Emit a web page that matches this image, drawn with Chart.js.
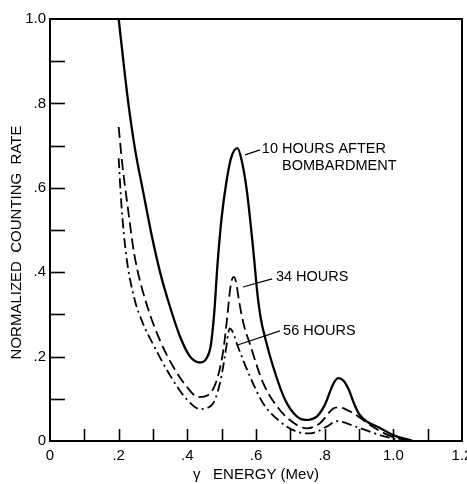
<!DOCTYPE html>
<html>
<head>
<meta charset="utf-8">
<script src="https://cdn.jsdelivr.net/npm/chart.js@4/dist/chart.umd.min.js"></script>
<style>
  html, body { margin: 0; padding: 0; background: #fff; }
  #wrap { width: 467px; height: 484px; }
</style>
</head>
<body>
<div id="wrap"><canvas id="spectrum"></canvas></div>
<script>
// gamma energy (Mev) and normalized counting rate
var energy10 = [0.200, 0.227, 0.248, 0.272, 0.296, 0.320, 0.345, 0.379, 0.408, 0.437, 0.455, 0.468, 0.478, 0.488, 0.500, 0.514, 0.528, 0.546, 0.558, 0.573, 0.592, 0.604, 0.614, 0.628, 0.650, 0.685, 0.719, 0.743, 0.777, 0.800, 0.825, 0.839, 0.855, 0.870, 0.885, 0.900, 0.925, 0.961, 1.000, 1.057];
var rate10   = [1.000, 0.808, 0.690, 0.588, 0.488, 0.402, 0.330, 0.247, 0.200, 0.186, 0.195, 0.225, 0.300, 0.420, 0.530, 0.615, 0.672, 0.694, 0.666, 0.595, 0.453, 0.350, 0.290, 0.240, 0.176, 0.097, 0.058, 0.050, 0.058, 0.085, 0.135, 0.149, 0.143, 0.122, 0.090, 0.064, 0.045, 0.031, 0.014, 0.000];

var energy34 = [0.200, 0.210, 0.228, 0.246, 0.280, 0.320, 0.359, 0.398, 0.432, 0.461, 0.486, 0.505, 0.517, 0.524, 0.530, 0.536, 0.543, 0.550, 0.563, 0.583, 0.621, 0.670, 0.719, 0.748, 0.786, 0.825, 0.840, 0.883, 0.941, 1.000, 1.060];
var rate34   = [0.744, 0.660, 0.545, 0.440, 0.328, 0.239, 0.176, 0.129, 0.104, 0.109, 0.145, 0.216, 0.300, 0.355, 0.383, 0.389, 0.372, 0.335, 0.280, 0.228, 0.137, 0.073, 0.038, 0.030, 0.042, 0.077, 0.080, 0.066, 0.033, 0.009, 0.000];

var energy56 = [0.200, 0.208, 0.222, 0.245, 0.270, 0.301, 0.350, 0.398, 0.437, 0.471, 0.495, 0.515, 0.519, 0.524, 0.530, 0.537, 0.544, 0.583, 0.621, 0.670, 0.719, 0.757, 0.806, 0.836, 0.894, 0.961, 1.020];
var rate56   = [0.670, 0.560, 0.440, 0.340, 0.280, 0.228, 0.155, 0.099, 0.076, 0.085, 0.137, 0.231, 0.255, 0.267, 0.262, 0.248, 0.231, 0.152, 0.089, 0.046, 0.022, 0.018, 0.034, 0.047, 0.033, 0.014, 0.002];

// curve labels: text lines, text anchor and leader line (data units)
var curveNotes = [
  { lines: ["10 HOURS AFTER", "BOMBARDMENT"], at: [0.617, 0.692], indent: [0, 0.059], lead: [0.568, 0.678, 0.612, 0.690] },
  { lines: ["34 HOURS"], at: [0.658, 0.389], indent: [0], lead: [0.562, 0.365, 0.647, 0.384] },
  { lines: ["56 HOURS"], at: [0.679, 0.261], indent: [0], lead: [0.544, 0.227, 0.670, 0.261] }
];

function pairs(xs, ys) {
  return xs.map(function (x, i) { return { x: x, y: ys[i] }; });
}

function tickText(v) {
  var n = Math.round(v * 10);
  if (n % 2 !== 0) return "";
  if (n === 0) return "0";
  if (n < 10) return "." + n;
  return (n / 10).toFixed(1);
}

var fontFam = "'Liberation Sans', Arial, sans-serif";

// box, inward tick marks and curve labels
var framePlugin = {
  id: "frame",
  afterDraw: function (chart) {
    var c = chart.ctx, a = chart.chartArea;
    var sx = chart.scales.x, sy = chart.scales.y;
    c.save();
    c.strokeStyle = "#000";
    c.lineWidth = 1.6;
    sx.ticks.forEach(function (t) {
      var p = Math.round(sx.getPixelForValue(t.value)) + 0.5;
      if (p <= a.left + 1 || p >= a.right - 1) return;
      c.beginPath(); c.moveTo(p, a.bottom); c.lineTo(p, a.bottom - 12); c.stroke();
    });
    sy.ticks.forEach(function (t) {
      var p = Math.round(sy.getPixelForValue(t.value)) + 0.5;
      if (p >= a.bottom - 1 || p <= a.top + 1) return;
      c.beginPath(); c.moveTo(a.left, p); c.lineTo(a.left + 15, p); c.stroke();
    });
    c.lineWidth = 2;
    c.strokeRect(a.left, a.top, a.right - a.left, a.bottom - a.top);

    c.lineWidth = 1.2;
    c.fillStyle = "#000";
    c.font = "14.5px " + fontFam;
    c.textBaseline = "middle";
    curveNotes.forEach(function (n) {
      c.beginPath();
      c.moveTo(sx.getPixelForValue(n.lead[0]), sy.getPixelForValue(n.lead[1]));
      c.lineTo(sx.getPixelForValue(n.lead[2]), sy.getPixelForValue(n.lead[3]));
      c.stroke();
      n.lines.forEach(function (s, i) {
        var px = sx.getPixelForValue(n.at[0] + n.indent[i]);
        var py = sy.getPixelForValue(n.at[1]) + i * 17;
        c.fillText(s, px, py);
      });
    });
    c.restore();
  }
};

var ctx = document.getElementById("spectrum");
new Chart(ctx, {
  type: "line",
  data: {
    datasets: [
      { label: "10 hours", data: pairs(energy10, rate10), borderColor: "#000", borderWidth: 2.3 },
      { label: "34 hours", data: pairs(energy34, rate34), borderColor: "#000", borderWidth: 1.8, borderDash: [11, 5] },
      { label: "56 hours", data: pairs(energy56, rate56), borderColor: "#000", borderWidth: 1.8, borderDash: [10, 4, 2, 4] }
    ]
  },
  options: {
    responsive: true,
    maintainAspectRatio: false,
    animation: false,
    elements: {
      point: { radius: 0 },
      line: { cubicInterpolationMode: "monotone", fill: false }
    },
    layout: { padding: { top: 19, right: 5, left: 0, bottom: 0 } },
    plugins: { legend: { display: false }, tooltip: { enabled: false } },
    scales: {
      x: {
        type: "linear",
        min: 0,
        max: 1.2,
        grid: { display: false, drawTicks: false },
        border: { display: false },
        ticks: {
          stepSize: 0.1,
          autoSkip: false,
          maxRotation: 0,
          padding: 6,
          color: "#000",
          font: { family: fontFam, size: 15 },
          callback: function (v) { return tickText(v); }
        },
        title: {
          display: true,
          text: "\u03b3   ENERGY (Mev)",
          color: "#000",
          font: { family: fontFam, size: 15 },
          padding: { top: 0, bottom: 0 }
        },
        afterFit: function (s) { s.height = 43; s.paddingRight = 0; s.paddingLeft = 0; }
      },
      y: {
        min: 0,
        max: 1.0,
        grid: { display: false, drawTicks: false },
        border: { display: false },
        ticks: {
          stepSize: 0.1,
          autoSkip: false,
          padding: 4,
          color: "#000",
          font: { family: fontFam, size: 15 },
          callback: function (v) { return tickText(v); }
        },
        title: {
          display: true,
          text: "NORMALIZED  COUNTING  RATE      ",
          color: "#000",
          font: { family: fontFam, size: 15 },
          padding: { top: 8, bottom: 0 }
        },
        afterFit: function (s) { s.width = 50; s.paddingTop = 0; s.paddingBottom = 0; }
      }
    }
  },
  plugins: [framePlugin]
});
</script>
</body>
</html>
